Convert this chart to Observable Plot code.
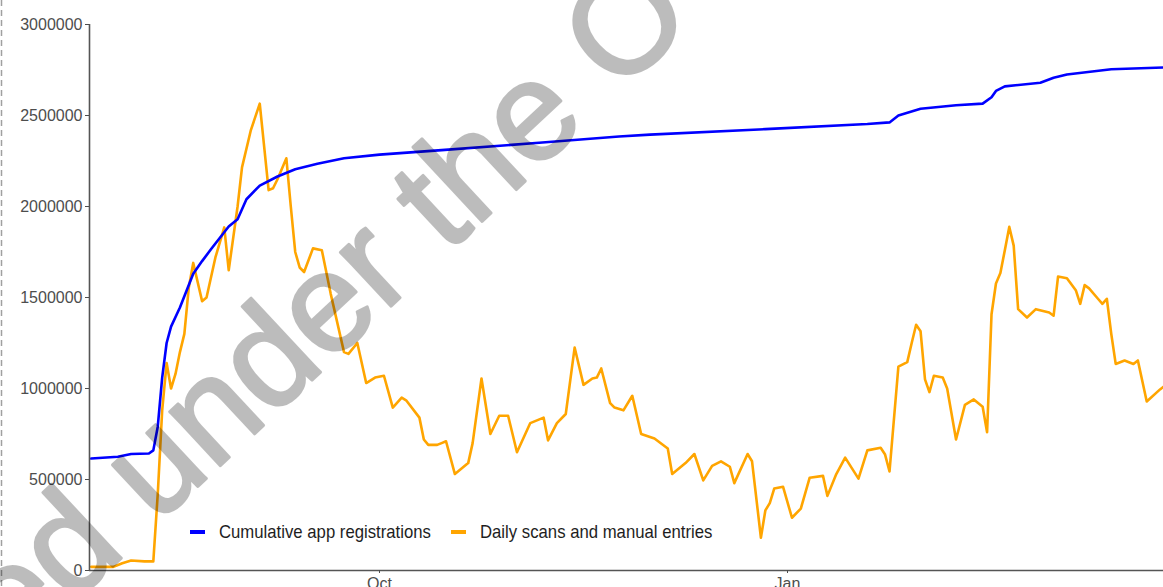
<!DOCTYPE html>
<html>
<head>
<meta charset="utf-8">
<script src="https://cdn.jsdelivr.net/npm/d3@7"></script>
<script src="https://cdn.jsdelivr.net/npm/@observablehq/plot@0.6"></script>
<style>
  html, body { margin: 0; padding: 0; background: #fff; }
  #wrap { position: relative; width: 1163px; height: 587px; overflow: hidden; font-family: "Liberation Sans", Arial, sans-serif; }
  #chart { position: absolute; left: 0; top: 0; }
  .key { position: absolute; width: 15px; height: 4px; top: 530px; }
  .lab { position: absolute; top: 520px; font-size: 19px; line-height: 24px; color: #1e1e1e; white-space: nowrap; transform: scaleX(0.88); transform-origin: left center; }
  #overlay { position: absolute; left: 0; top: 0; pointer-events: none; }
</style>
</head>
<body>
<div id="wrap">
  <div id="chart"></div>
  <div class="key" style="left:190px;background:#0000ff"></div>
  <div class="lab" style="left:219px">Cumulative app registrations</div>
  <div class="key" style="left:451px;background:#ffa500"></div>
  <div class="lab" style="left:480px">Daily scans and manual entries</div>
  <svg id="overlay" width="1163" height="587">
    <line x1="1.5" y1="0" x2="1.5" y2="587" stroke="#a0a0a0" stroke-width="1.5" stroke-dasharray="6,4"></line>
    <g opacity="0.26">
      <text font-family="Liberation Sans, Arial, sans-serif" font-size="140" fill="#000" stroke="#000" stroke-width="3" stroke-linejoin="round" transform="translate(14,658) rotate(-43)">ed under the O</text>
    </g>
  </svg>
</div>
<script>
// ---- data ----
const regDates = ["2020-07-28","2020-08-03","2020-08-06","2020-08-10","2020-08-11","2020-08-12","2020-08-13","2020-08-14","2020-08-15","2020-08-17","2020-08-20","2020-08-22","2020-08-24","2020-08-28","2020-08-30","2020-09-01","2020-09-04","2020-09-08","2020-09-12","2020-09-17","2020-09-23","2020-10-01","2020-10-15","2020-11-06","2020-11-24","2020-12-01","2020-12-27","2021-01-19","2021-01-24","2021-01-26","2021-01-31","2021-02-08","2021-02-14","2021-02-16","2021-02-17","2021-02-19","2021-02-27","2021-03-02","2021-03-05","2021-03-15","2021-03-27"];
const regValues = [615000,625000,640000,643000,660000,790000,1060000,1250000,1340000,1445000,1630000,1700000,1765000,1890000,1930000,2040000,2115000,2165000,2205000,2235000,2265000,2285000,2310000,2350000,2385000,2395000,2425000,2453000,2462000,2500000,2537000,2556000,2565000,2600000,2635000,2660000,2680000,2707000,2725000,2754000,2764000];

const scanDates = ["2020-07-28","2020-08-02","2020-08-04","2020-08-06","2020-08-09","2020-08-11","2020-08-12","2020-08-13","2020-08-14","2020-08-15","2020-08-16","2020-08-17","2020-08-18","2020-08-19","2020-08-20","2020-08-22","2020-08-23","2020-08-25","2020-08-27","2020-08-28","2020-08-30","2020-08-31","2020-09-02","2020-09-04","2020-09-06","2020-09-07","2020-09-08","2020-09-10","2020-09-11","2020-09-12","2020-09-13","2020-09-14","2020-09-16","2020-09-18","2020-09-20","2020-09-23","2020-09-24","2020-09-26","2020-09-28","2020-09-30","2020-10-02","2020-10-04","2020-10-06","2020-10-07","2020-10-10","2020-10-11","2020-10-12","2020-10-14","2020-10-15","2020-10-16","2020-10-18","2020-10-21","2020-10-22","2020-10-24","2020-10-26","2020-10-28","2020-10-30","2020-11-01","2020-11-04","2020-11-07","2020-11-08","2020-11-10","2020-11-12","2020-11-14","2020-11-16","2020-11-18","2020-11-19","2020-11-20","2020-11-22","2020-11-23","2020-11-25","2020-11-27","2020-11-29","2020-12-02","2020-12-05","2020-12-06","2020-12-09","2020-12-11","2020-12-13","2020-12-15","2020-12-17","2020-12-19","2020-12-20","2020-12-23","2020-12-24","2020-12-26","2020-12-27","2020-12-28","2020-12-29","2020-12-31","2021-01-02","2021-01-04","2021-01-06","2021-01-09","2021-01-10","2021-01-12","2021-01-14","2021-01-17","2021-01-19","2021-01-22","2021-01-23","2021-01-24","2021-01-26","2021-01-28","2021-01-29","2021-01-30","2021-01-31","2021-02-01","2021-02-02","2021-02-03","2021-02-05","2021-02-06","2021-02-08","2021-02-10","2021-02-12","2021-02-14","2021-02-15","2021-02-16","2021-02-17","2021-02-18","2021-02-19","2021-02-20","2021-02-21","2021-02-22","2021-02-24","2021-02-26","2021-03-01","2021-03-02","2021-03-03","2021-03-05","2021-03-07","2021-03-08","2021-03-09","2021-03-10","2021-03-12","2021-03-13","2021-03-14","2021-03-15","2021-03-16","2021-03-18","2021-03-20","2021-03-21","2021-03-23","2021-03-26","2021-03-28"];
const scanValues = [20000,20000,40000,55000,50000,50000,420000,880000,1140000,1000000,1080000,1200000,1300000,1555000,1690000,1480000,1500000,1720000,1885000,1650000,2000000,2215000,2420000,2565000,2090000,2100000,2150000,2265000,2000000,1750000,1665000,1640000,1770000,1760000,1520000,1200000,1190000,1250000,1030000,1060000,1070000,895000,950000,935000,840000,720000,690000,690000,700000,710000,530000,590000,700000,1055000,750000,850000,850000,650000,810000,840000,715000,810000,860000,1225000,1020000,1055000,1060000,1110000,920000,895000,880000,960000,750000,725000,670000,530000,590000,640000,495000,575000,600000,570000,480000,640000,600000,180000,330000,370000,450000,460000,290000,340000,510000,520000,410000,530000,620000,505000,660000,674000,637000,544000,1120000,1145000,1250000,1350000,1314000,1050000,980000,1070000,1060000,1000000,720000,910000,940000,900000,760000,1408000,1577000,1634000,1760000,1888000,1785000,1436000,1390000,1436000,1418000,1400000,1615000,1606000,1540000,1465000,1568000,1550000,1493000,1465000,1493000,1300000,1135000,1154000,1135000,1154000,929000,995000,1033000];

const yTicks = [0, 500000, 1000000, 1500000, 2000000, 2500000, 3000000];
const xTicks = ["2020-10-01", "2021-01-01"];
const xDomain = ["2020-07-27T14:40:00Z", "2021-03-26T18:40:00Z"];

// ---- build tables ----
const reg = regDates.map((d, i) => ({date: new Date(d), value: regValues[i]}));
const scans = scanDates.map((d, i) => ({date: new Date(d), value: scanValues[i]}));

const axisColor = "#4d4d4d";
const chart = Plot.plot({
  width: 1163,
  height: 587,
  marginLeft: 89,
  marginRight: 0,
  marginTop: 24,
  marginBottom: 17,
  style: {fontFamily: "Liberation Sans, Arial, sans-serif", fontSize: "16px", background: "transparent"},
  x: {type: "utc", domain: xDomain.map(d => new Date(d))},
  y: {domain: [0, 3000000]},
  marks: [
    Plot.lineY(scans, {x: "date", y: "value", stroke: "#ffa500", strokeWidth: 2.6, clip: true}),
    Plot.lineY(reg, {x: "date", y: "value", stroke: "#0000ff", strokeWidth: 2.6, clip: true}),
    Plot.ruleX([new Date(xDomain[0])], {stroke: "#555", strokeWidth: 1.6}),
    Plot.ruleY([0], {stroke: "#555", strokeWidth: 1.6}),
    Plot.axisY({ticks: yTicks, tickFormat: d3.format("d"), tickSize: 4, tickPadding: 3, color: axisColor, fontSize: 16, label: null}),
    Plot.axisX({ticks: xTicks.map(d => new Date(d)), tickFormat: d3.utcFormat("%b"), tickSize: 3, tickPadding: 4, color: axisColor, fontSize: 16, label: null})
  ]
});
document.getElementById("chart").appendChild(chart);
</script>
</body>
</html>
